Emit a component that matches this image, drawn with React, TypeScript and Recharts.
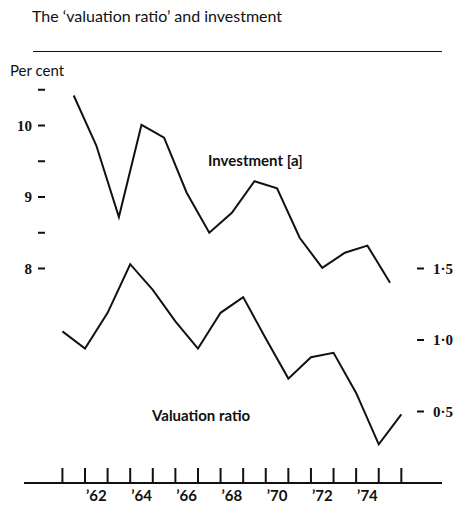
import { LineChart, Line, XAxis, YAxis } from 'recharts';

// investment, per cent, plotted mid-year
const investYears = [1961, 1962, 1963, 1964, 1965, 1966, 1967, 1968, 1969, 1970, 1971, 1972, 1973, 1974, 1975];
const investment = [10.42, 9.72, 8.72, 10.01, 9.83, 9.06, 8.5, 8.78, 9.22, 9.12, 8.43, 8.01, 8.22, 8.32, 7.8];

// valuation ratio, plotted at year start
const ratioYears = [1961, 1962, 1963, 1964, 1965, 1966, 1967, 1968, 1969, 1970, 1971, 1972, 1973, 1974, 1975, 1976];
const valuation = [1.06, 0.94, 1.19, 1.53, 1.35, 1.13, 0.94, 1.19, 1.3, 1.01, 0.73, 0.88, 0.91, 0.63, 0.27, 0.48];

const yearTicks = [1961, 1962, 1963, 1964, 1965, 1966, 1967, 1968, 1969, 1970, 1971, 1972, 1973, 1974, 1975, 1976];
const leftTicks = [8, 8.5, 9, 9.5, 10, 10.5];
const rightTicks = [0.5, 1.0, 1.5];

const W = 458;
const H = 519;
const M = { top: 54, right: 15, bottom: 35, left: 23 };
const X_DOMAIN: [number, number] = [1959.3, 1977.8];
const pxPerYear = (W - M.left - M.right - 2) / (X_DOMAIN[1] - X_DOMAIN[0]);

const investData = investYears.map((y, i) => ({ x: y + 0.5, v: investment[i] }));
const ratioData = ratioYears.map((y, i) => ({ x: y, v: valuation[i] }));

const serif = '"Liberation Serif", "DejaVu Serif", serif';
const sans = 'Lato, "Open Sans", sans-serif';

function YearTick(props: any) {
  const { x, y, payload } = props;
  const yr = payload.value as number;
  return (
    <g>
      <line x1={x} x2={x} y1={y} y2={y - 15} stroke="#111" strokeWidth={2} />
      {yr % 2 === 0 && yr < 1976 ? (
        <text x={x + pxPerYear / 2} y={y + 18} textAnchor="middle" fontFamily={sans} fontSize={15} fontWeight={700} fill="#111">
          {'\u2019' + String(yr).slice(2)}
        </text>
      ) : null}
    </g>
  );
}

function LeftTick(props: any) {
  const { x, y, payload } = props;
  const v = payload.value as number;
  return (
    <g>
      <line x1={x + 14} x2={x + 21} y1={y} y2={y} stroke="#111" strokeWidth={2} />
      {Number.isInteger(v) ? (
        <text x={x + 8} y={y + 5} textAnchor="end" fontFamily={serif} fontSize={15} fontWeight={700} fill="#111">
          {v}
        </text>
      ) : null}
    </g>
  );
}

function RightTick(props: any) {
  const { x, y, payload } = props;
  const v = payload.value as number;
  return (
    <g>
      <line x1={x - 25} x2={x - 18} y1={y} y2={y} stroke="#111" strokeWidth={2} />
      <text x={x - 9} y={y + 5} textAnchor="start" fontFamily={serif} fontSize={15} fontWeight={700} fill="#111">
        {v.toFixed(1).replace('.', '\u00b7')}
      </text>
    </g>
  );
}

const abs = (left: number, top: number, extra: any = {}) => ({
  position: 'absolute' as const,
  left,
  top,
  whiteSpace: 'nowrap' as const,
  color: '#111',
  fontFamily: sans,
  lineHeight: 1,
  ...extra,
});

export default function App() {
  return (
    <div style={{ position: 'absolute', left: 0, top: 0, width: W, height: H, background: '#fff', overflow: 'hidden' }}>
      <LineChart width={W} height={H} margin={M}>
        <XAxis
          dataKey="x"
          type="number"
          domain={X_DOMAIN}
          ticks={yearTicks}
          interval={0}
          height={1}
          tickSize={0}
          tickMargin={0}
          tickLine={false}
          axisLine={{ stroke: '#111', strokeWidth: 2 }}
          tick={<YearTick />}
          allowDuplicatedCategory={false}
        />
        <YAxis
          yAxisId="left"
          type="number"
          domain={[5, 11]}
          ticks={leftTicks}
          interval={0}
          width={1}
          tickSize={0}
          tickMargin={0}
          tickLine={false}
          axisLine={false}
          tick={<LeftTick />}
        />
        <YAxis
          yAxisId="right"
          orientation="right"
          type="number"
          domain={[0, 3]}
          ticks={rightTicks}
          interval={0}
          width={1}
          tickSize={0}
          tickMargin={0}
          tickLine={false}
          axisLine={false}
          tick={<RightTick />}
        />
        <Line
          yAxisId="left"
          data={investData}
          dataKey="v"
          type="linear"
          stroke="#111"
          strokeWidth={2}
          dot={false}
          isAnimationActive={false}
        />
        <Line
          yAxisId="right"
          data={ratioData}
          dataKey="v"
          type="linear"
          stroke="#111"
          strokeWidth={2}
          dot={false}
          isAnimationActive={false}
        />
      </LineChart>
      <div style={abs(32, 8, { fontSize: 16 })}>The {'\u2018'}valuation ratio{'\u2019'} and investment</div>
      <div style={{ position: 'absolute', left: 33, top: 51, width: 409, height: 0, borderTop: '1.5px solid #111' }} />
      <div style={abs(10, 63, { fontSize: 15 })}>Per cent</div>
      <div style={abs(208, 153, { fontSize: 15, fontWeight: 700 })}>Investment [a]</div>
      <div style={abs(152, 408, { fontSize: 15, fontWeight: 700 })}>Valuation ratio</div>
    </div>
  );
}
